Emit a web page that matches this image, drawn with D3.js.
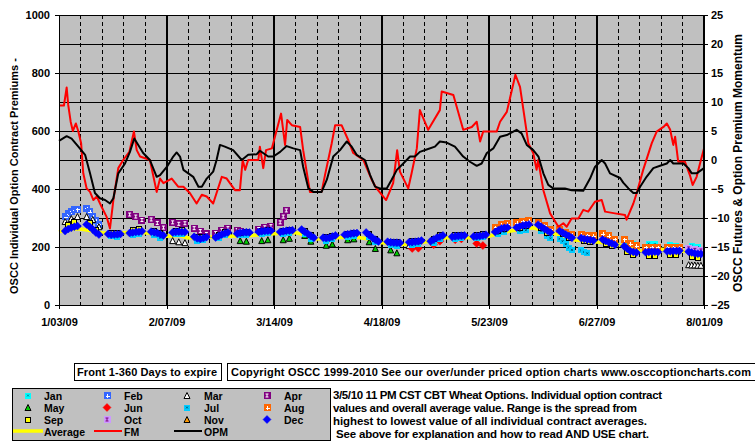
<!DOCTYPE html>
<html><head><meta charset="utf-8">
<script src="https://cdn.jsdelivr.net/npm/d3@7"></script>
<style>
body{margin:0;background:#fff;}
svg{display:block;font-family:"Liberation Sans",Arial,sans-serif;font-weight:bold;font-size:11px;}
</style>
</head><body><svg id="c" width="755" height="446"></svg>
<script>
// ---------------- DATA ----------------
const startDate = new Date(2009, 0, 3);
const xTickDays = [0, 35, 70, 105, 140, 175, 210];
const leftTicks = [0, 200, 400, 600, 800, 1000];
const rightTicks = [-25, -20, -15, -10, -5, 0, 5, 10, 15, 20, 25];

// FM (futures momentum) red line, right axis
const fmDays = [0,1.6,2.5,3,3.8,4.5,5.5,6.3,7.2,7.9,9,10.1,11.2,12.3,13.9,15.5,16.6,17.7,19.3,20.9,22.9,24.4,25.3,26.4,29.6,31.8,32.9,34,36.7,38.8,40.5,42.6,44.8,46.5,48.1,50.2,53,54.6,57.3,58.9,59.8,60.6,61.6,64.9,65.4,66.5,67.4,69.3,72.3,73.6,74.3,75.8,78.5,79.5,81.7,85.5,86.6,88.8,89.9,92,94.2,95.8,99.1,101.8,103.4,106.5,108.8,110.1,111,113.7,114.8,116.5,117.5,120.2,124,124.6,128.4,131.6,134.4,136,137.1,138.1,142.5,143.6,145.8,148.6,150.1,152.8,154.4,155.5,156,157.7,159.9,162.6,164.2,165.3,166.9,169.1,170.7,172.3,174.5,176.7,177.8,181,184.3,184.8,187,188.1,190.2,193,194.6,196.8,197.9,199,200,200.6,201.6,203.8,205.4,206.3,207.6,208.7,210];
const fmVals = [9.4,9.4,12.5,9.5,6.6,5.0,6.3,4.9,2.9,-2.3,-4.9,-5.5,-6.9,-6.3,-8.1,-9.8,-11.8,-6.9,-1.4,0,1.4,4.9,1.7,0.6,0,-5.5,-3.2,-4.0,-3.2,-4.6,-4.6,-5.7,-7.5,-6.0,-6.3,-7.5,-2.9,-3.2,-5.2,-5.2,0,-1.7,0,0,2.3,-1.4,1.7,2.0,8.0,2.6,6.9,6.0,5.7,1.7,-5.5,-5.5,-2.6,2.9,6.0,6.0,3.4,1.2,0,-3.4,-4.9,-6.9,-4.0,1.7,-2.0,-4.9,-2.3,2.0,8.6,5.2,8.6,11.8,11.2,5.2,5.7,6.6,3.2,4.9,4.9,6.6,8.3,14.7,12.6,2.9,1.2,-1.7,0,-5.2,-9.2,-11.5,-10.9,-11.5,-10.1,-10.1,-8.6,-8.9,-7.2,-6.9,-8.9,-9.2,-9.5,-10.3,-7.5,-5.7,-1.7,2.9,4.9,5.7,6.3,5.2,2.6,4.0,-0.3,-0.3,-2.6,-4.3,-2.9,-0.6,2.0];

// OPM (option premium momentum) black line, right axis
const opmDays = [0,2.5,4.1,6.3,8.5,10.1,11.7,13.3,15,16.6,17.7,19.3,21.5,23.1,24.5,25.8,27.4,29.6,31.8,32.9,35.1,37.2,38.3,39.4,40.5,43.7,45.4,46.5,48.1,50.2,51.3,52.4,54,56.7,59.5,61.6,64.4,65.4,68.1,69.8,72,74.1,76.3,78.5,79.5,81.2,82.8,85.5,87.2,89.3,91.5,93.7,95.3,96.9,99.6,101.3,102.9,104.5,106.7,108.3,110,112.1,114.3,115.9,117.5,119.7,122.4,124,126.2,128.9,131.6,133.8,136,137.6,139.3,141.4,143.6,145.8,149,150.6,152.3,154.4,156.1,157.7,159.3,160.9,164.7,166.9,170.7,172.9,174.5,176.7,177.8,179.4,182.7,183.7,185.4,187,188.1,189.2,191.3,193.5,195.7,197.9,199,200,203.3,204.9,206,207.6,210];
const opmVals = [3.3,4.1,3.7,2.3,0.9,-2.3,-5.7,-6.6,-6.9,-7.5,-6.6,-2.3,-0.6,1.4,3.7,2.6,1.2,0,-2.9,-2.6,-1.2,0.6,1.3,0.6,-1.7,-2.9,-4.6,-4.6,-3.2,-2.0,0,2.6,2.3,1.7,0,0.9,1.0,1.6,0.6,0.6,1.4,2.4,2.0,1.7,-1.2,-4.9,-5.5,-5.5,-3.4,0.6,1.7,3.2,2.3,0.9,0,-2.6,-4.6,-4.9,-4.9,-3.4,-1.7,-0.6,0.6,0.6,1.4,1.8,2.3,3.2,3.0,2.3,0.6,-0.3,-1.0,-0.6,1.2,2.0,4.0,4.3,5.2,4.6,2.6,1.7,0.6,-2.3,-4.3,-4.9,-4.9,-5.2,-5.3,-3.2,-1.2,0,-0.6,-2.3,-3.1,-3.9,-4.9,-5.7,-5.7,-4.6,-2.9,-1.4,-1.0,-0.6,0,-0.6,-0.6,-1.4,-2.3,-2.3,-1.4];

// Overall average premium (yellow), left axis
const avgDays = [0,4,7,11,14,18,21,25,28,32,35,39,42,46,49,53,56,60,63,67,70,74,77,81,84,88,91,95,98,102,105,109,112,116,119,123,126,130,133,137,140,144,147,151,154,158,161,165,168,172,175,179,182,186,189,193,196,200,203,207,210];
const avgVals = [252,262,262,255,249,246,249,251,249,245,237,240,231,232,234,238,237,240,240,244,246,250,249,240,228,230,232,235,232,226,215,212,209,213,217,226,232,233,232,234,237,250,255,262,266,258,247,236,224,221,217,213,209,196,186,188,192,190,186,183,182];

// Trading days (weekdays) used by the December contract
const weekdays = [2,3,4,5,6,9,10,11,12,13,16,17,18,19,20,23,24,25,26,27,30,31,32,33,34,37,38,39,40,41,44,45,46,47,48,51,52,53,54,55,58,59,60,61,62,65,66,67,68,69,72,73,74,75,76,79,80,81,82,83,86,87,88,89,90,93,94,95,96,97,100,101,102,103,104,107,108,109,110,111,114,115,116,117,118,121,122,123,124,125,128,129,130,131,132,135,136,137,138,139,142,143,144,145,146,149,150,151,152,153,156,157,158,159,160,163,164,165,166,167,170,171,172,173,174,177,178,179,180,181,184,185,186,187,188,191,192,193,194,195,198,199,200,201,202,205,206,207,208,209];
const decVals = [255,262,266,270,272,278,270,260,250,243,245,242,243,244,245,248,250,252,253,254,253,251,248,244,240,250,252,253,253,252,235,230,228,231,234,233,238,243,247,250,246,249,250,251,250,252,254,255,256,256,252,254,256,257,258,260,253,246,239,232,232,231,232,236,240,242,244,246,247,248,250,241,232,225,219,218,216,215,215,214,216,217,218,220,222,220,226,232,236,240,235,237,238,239,240,236,237,238,240,242,252,258,264,266,267,267,271,274,276,278,277,270,263,256,250,255,249,243,238,232,231,228,226,224,222,226,221,216,212,208,203,194,186,183,181,182,183,184,184,183,185,185,186,186,187,184,181,178,177,176];

const sepDays = [3,5,10,12,17,19,24,26,31,33,38,40,45,47,52,54,59,61,66,68,73,75,80,82,87,89,94,96,101,103,108,110,115,117,122,124,129,131,136,138,143,145,150,152,157,159,164,166,171,173,178,180,185,187,192,194,199,201,206,208];
const sepVals = [275,285,282,258,250,250,258,262,255,248,256,258,234,234,240,252,250,252,256,259,256,260,256,242,234,238,246,250,244,228,218,216,220,222,228,240,240,243,242,245,255,262,265,272,265,250,244,232,222,218,210,202,182,172,170,170,172,172,166,162];

const julDays = [17,19,24,26,31,33,38,40,45,47,52,54,59,61,66,68,73,75,80,82,87,89,94,96,101,103,108,110,115,117,122,124,129,131,136,138,143,145,150,152,157,159,160,163,164,165,166,167,170,171,172];
const julVals = [238,236,242,245,240,232,245,244,222,225,232,242,240,242,246,248,246,250,245,228,222,226,236,238,236,216,206,205,206,210,215,226,228,230,230,234,245,252,255,258,255,238,230,228,220,210,198,190,188,183,178];

const augDays = [142,144,146,149,151,153,156,158,160,163,165,167,170,172,174,177,179,181,184,186,188,191,193,195,198,200,202];
const augVals = [268,276,280,283,288,290,286,275,262,262,250,243,242,240,238,245,238,226,226,212,205,200,200,200,200,200,200];

const aprDays = [23,25,27,30,32,34,37,39,41,44,46,48,51,53,55,58,59,65,67,69,72,73,74];
const aprVals = [312,305,293,295,283,267,285,280,282,265,255,245,248,258,265,258,255,262,268,272,285,305,326];

const febDays = [2,3,4,5,6,9,10,11,12,13];
const febVals = [304,315,324,329,331,333,322,305,290,278];

const marDays = [2,4,6,9,11,13,37,39,41,114,116,205,206,207,208,209];
const marVals = [288,298,305,305,295,270,222,218,215,205,208,139,138,138,137,137];

const mayDays = [59,61,66,68,73,75,80,82,87,89,94,96,101,103,108,110];
const mayVals = [222,220,222,225,225,230,240,220,206,210,225,228,218,195,190,180];

const junDays = [115,117,122,124,129,131,136,138];
const junVals = [195,196,208,220,225,228,212,205];

const janDays = [185,187,192,194,199,201,206,208];
const janVals = [212,210,212,210,207,205,205,200];

const octDays = [205,207,209];
const octVals = [195,190,188];

const novDays = [];
const novVals = [];

const legendNames = ["Jan","Feb","Mar","Apr","May","Jun","Jul","Aug","Sep","Oct","Nov","Dec"];

// ---------------- CHART ----------------
const svg = d3.select("#c");
const L = 59, R = 704, T = 15, B = 305;
const x = d3.scaleLinear().domain([0, 210]).range([L, R]);
const yL = d3.scaleLinear().domain([0, 1000]).range([B, T]);
const yR = d3.scaleLinear().domain([-25, 25]).range([B, T]);
const fmtDate = d3.timeFormat("%-m/%d/%y");

svg.append("rect").attr("x", L).attr("y", T).attr("width", R - L).attr("height", B - T).attr("fill", "#c0c0c0");

// gridlines
const grid = svg.append("g").attr("shape-rendering", "crispEdges");
grid.selectAll("line.h").data(d3.range(100, 1001, 100)).join("line")
  .attr("x1", L).attr("x2", R).attr("y1", d => yL(d)).attr("y2", d => yL(d))
  .attr("stroke", "#000").attr("stroke-width", 1);
grid.selectAll("line.v").data(d3.range(7, 210, 7)).join("line")
  .attr("x1", d => x(d)).attr("x2", d => x(d)).attr("y1", T).attr("y2", B)
  .attr("stroke", "#000")
  .attr("stroke-width", d => d % 35 === 0 ? 2 : 1)
  .attr("stroke-dasharray", d => d % 35 === 0 ? null : "4,3");

// average line
const lineL = d3.line().x(d => x(d[0])).y(d => yL(d[1]));
const lineR = d3.line().x(d => x(d[0])).y(d => yR(d[1]));
svg.append("path").datum(d3.zip(avgDays, avgVals)).attr("d", lineL)
  .attr("fill", "none").attr("stroke", "#ffff00").attr("stroke-width", 3.5);

// marker styles
const MS = {
  Jan: {shape: "sq", fill: "#00ffff", size: 6, inner: "x", ic: "#006080"},
  Feb: {shape: "sq", fill: "#3366ff", size: 7, inner: "plus", ic: "#fff"},
  Mar: {shape: "tri", fill: "#ffffff", size: 6, stroke: "#000"},
  Apr: {shape: "sq", fill: "#800080", size: 7, inner: "I", ic: "#fff"},
  May: {shape: "tri", fill: "#00cc00", size: 6, stroke: "#000"},
  Jun: {shape: "dia", fill: "#ff0000", size: 8},
  Jul: {shape: "sq", fill: "#00ccff", size: 6, inner: "x", ic: "#004060"},
  Aug: {shape: "sq", fill: "#ff6600", size: 7, inner: "plus", ic: "#fff"},
  Sep: {shape: "sq", fill: "#ffff00", size: 5, stroke: "#000"},
  Oct: {shape: "sq", fill: "#cc99ff", size: 7, inner: "I", ic: "#800080"},
  Nov: {shape: "tri", fill: "#ff9900", size: 6, stroke: "#000"},
  Dec: {shape: "dia", fill: "#0000ff", size: 8}
};
function drawMarker(sel, st) {
  const s = st.size, h = s / 2;
  if (st.shape === "sq") {
    sel.append("rect").attr("x", -h).attr("y", -h).attr("width", s).attr("height", s)
      .attr("fill", st.fill).attr("stroke", st.stroke || "none").attr("stroke-width", 1)
      .attr("shape-rendering", "crispEdges");
  } else if (st.shape === "tri") {
    sel.append("path").attr("d", `M0,${-h}L${h},${h}L${-h},${h}Z`)
      .attr("fill", st.fill).attr("stroke", st.stroke || "none").attr("stroke-width", 1);
  } else {
    sel.append("path").attr("d", `M0,${-h}L${h},0L0,${h}L${-h},0Z`)
      .attr("fill", st.fill).attr("stroke", st.fill).attr("stroke-width", 0.5);
  }
  if (st.inner === "plus") sel.append("path").attr("d", "M-1.5,0.5H2.5M0.5,-1.5V2.5").attr("stroke", st.ic).attr("stroke-width", 1).attr("shape-rendering", "crispEdges");
  if (st.inner === "x") sel.append("path").attr("d", "M-1,-1L1,1M1,-1L-1,1").attr("stroke", st.ic).attr("stroke-width", 0.8);
  if (st.inner === "I") sel.append("path").attr("d", "M-1.5,-1.5H1.5M-1.5,1.5H1.5M0,-1.5V1.5").attr("stroke", st.ic).attr("stroke-width", 1);
}

const seriesData = {
  Jan: [janDays, janVals], Feb: [febDays, febVals], Mar: [marDays, marVals],
  Apr: [aprDays, aprVals], May: [mayDays, mayVals], Jun: [junDays, junVals],
  Jul: [julDays, julVals], Aug: [augDays, augVals], Sep: [sepDays, sepVals],
  Oct: [octDays, octVals], Nov: [novDays, novVals], Dec: [weekdays, decVals]
};
legendNames.forEach(name => {
  const [ds, vs] = seriesData[name];
  const g = svg.append("g");
  g.selectAll("g").data(d3.zip(ds, vs)).join("g")
    .attr("transform", d => `translate(${x(d[0])},${yL(d[1])})`)
    .each(function () { drawMarker(d3.select(this), MS[name]); });
});

// momentum lines
svg.append("path").datum(d3.zip(fmDays, fmVals)).attr("d", lineR)
  .attr("fill", "none").attr("stroke", "#ff0000").attr("stroke-width", 2).attr("stroke-linejoin", "round");
svg.append("path").datum(d3.zip(opmDays, opmVals)).attr("d", lineR)
  .attr("fill", "none").attr("stroke", "#000").attr("stroke-width", 2).attr("stroke-linejoin", "round");

// axes
const axL = svg.append("g").attr("transform", `translate(${L},0)`)
  .call(d3.axisLeft(yL).tickValues(leftTicks).tickSize(4).tickPadding(5).tickFormat(d3.format("d")));
const axR = svg.append("g").attr("transform", `translate(${R},0)`)
  .call(d3.axisRight(yR).tickValues(rightTicks).tickSize(4).tickPadding(3));
const axB = svg.append("g").attr("transform", `translate(0,${B})`)
  .call(d3.axisBottom(x).tickValues(xTickDays).tickSize(4).tickPadding(9)
    .tickFormat(d => fmtDate(d3.timeDay.offset(startDate, d))));
[axL, axR, axB].forEach(a => {
  a.select(".domain").remove();
  a.selectAll("text").attr("font-family", "Liberation Sans, Arial, sans-serif").attr("font-weight", "bold").attr("font-size", 11).attr("fill", "#000");
  a.selectAll("line").attr("stroke", "#000").attr("shape-rendering", "crispEdges");
});
const frame = svg.append("g").attr("shape-rendering", "crispEdges").attr("stroke", "#000");
frame.append("line").attr("x1", L).attr("x2", L).attr("y1", T).attr("y2", B + 0.5);
frame.append("line").attr("x1", R).attr("x2", R).attr("y1", T).attr("y2", B + 0.5).attr("stroke-width", 2);
frame.append("line").attr("x1", L).attr("x2", R).attr("y1", B).attr("y2", B);

// axis titles
svg.append("text").attr("transform", "translate(18,176) rotate(-90)").attr("text-anchor", "middle")
  .attr("font-size", 11).text("OSCC Individual Option Contract Premiums -");
svg.append("text").attr("transform", "translate(742,163) rotate(-90)").attr("text-anchor", "middle")
  .attr("font-size", 12).text("OSCC Futures & Option Premium Momentum");

// text boxes
svg.append("rect").attr("x", 74.5).attr("y", 363.5).attr("width", 147).attr("height", 17).attr("fill", "#fff").attr("stroke", "#000");
svg.append("text").attr("x", 77).attr("y", 375.5).attr("textLength", 140).attr("lengthAdjust", "spacing").text("Front 1-360 Days to expire");
svg.append("rect").attr("x", 227.5).attr("y", 363.5).attr("width", 540).attr("height", 17).attr("fill", "#fff").attr("stroke", "#000");
svg.append("text").attr("x", 231).attr("y", 375.5).attr("textLength", 520).attr("lengthAdjust", "spacing")
  .text("Copyright OSCC 1999-2010 See our over/under priced option charts www.osccoptioncharts.com");

// legend
const lg = svg.append("g");
lg.append("rect").attr("x", 12.5).attr("y", 388.5).attr("width", 318).attr("height", 52).attr("fill", "#c0c0c0").attr("stroke", "#000");
const colM = [28, 107, 187, 267], colT = [44, 124, 204, 284], rowY = [395.5, 407.5, 419.5, 431.5];
legendNames.forEach((name, i) => {
  const r = Math.floor(i / 4), c = i % 4;
  const g = lg.append("g").attr("transform", `translate(${colM[c]},${rowY[r]})`);
  drawMarker(g, MS[name]);
  lg.append("text").attr("x", colT[c]).attr("y", rowY[r] + 4).attr("font-size", 10.5).text(name);
});
const lineItems = [["Average", "#ffff00", 3.5, 13, 43], ["FM", "#ff0000", 2, 94, 122], ["OPM", "#000", 2, 174, 202]];
lineItems.forEach((it, i) => {
  lg.append("line").attr("x1", it[3]).attr("x2", it[4]).attr("y1", rowY[3] - 0.5).attr("y2", rowY[3] - 0.5).attr("stroke", it[1]).attr("stroke-width", it[2]);
  lg.append("text").attr("x", colT[i]).attr("y", rowY[3] + 4).attr("font-size", 10.5).text(it[0]);
});

// note text
const notes = ["3/5/10 11 PM CST CBT Wheat Options. Individual option contract",
  "values and overall average value. Range is the spread from",
  "highest to lowest value of all individual contract averages.",
  " See above for explanation and how to read AND USE chart."];
const noteLen = [329, 304, 314, 316];
svg.append("g").selectAll("text").data(notes).join("text")
  .attr("x", 333).attr("y", (d, i) => 399 + i * 13).attr("font-size", 11.5)
  .attr("textLength", (d, i) => noteLen[i]).attr("lengthAdjust", "spacing")
  .style("white-space", "pre").text(d => d);
</script>
</body></html>
